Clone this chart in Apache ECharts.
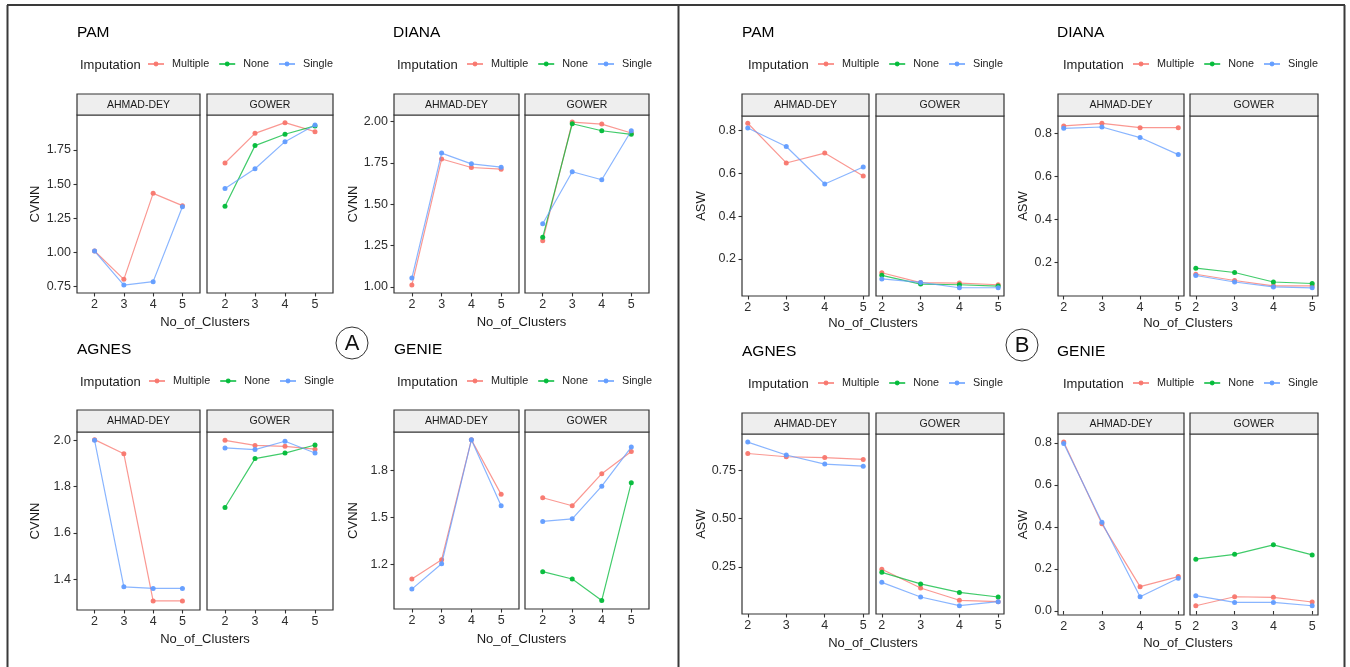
<!DOCTYPE html>
<html>
<head>
<meta charset="utf-8">
<script src="https://cdn.jsdelivr.net/npm/echarts@6.0.0/dist/echarts.min.js"></script>
<style>
html,body{margin:0;padding:0;background:#fff;}
#chart{width:1350px;height:667px;}
</style>
</head>
<body>
<div id="chart"></div>
<script>
// ---------------- DATA ----------------
const clusters = [2, 3, 4, 5];
const imputations = ['Multiple', 'None', 'Single'];
const facetNames = ['AHMAD-DEY', 'GOWER'];

// (A) CVNN
const cvnnPamAhmadMultiple   = [1.011, 0.804, 1.433, 1.343];
const cvnnPamAhmadSingle     = [1.011, 0.762, 0.787, 1.335];
const cvnnPamGowerMultiple   = [1.655, 1.872, 1.950, 1.884];
const cvnnPamGowerNone       = [1.338, 1.782, 1.865, 1.926];
const cvnnPamGowerSingle     = [1.469, 1.613, 1.811, 1.933];

const cvnnDianaAhmadMultiple = [1.012, 1.773, 1.722, 1.712];
const cvnnDianaAhmadSingle   = [1.054, 1.809, 1.744, 1.724];
const cvnnDianaGowerMultiple = [1.280, 1.996, 1.984, 1.930];
const cvnnDianaGowerNone     = [1.300, 1.986, 1.944, 1.922];
const cvnnDianaGowerSingle   = [1.382, 1.696, 1.648, 1.944];

const cvnnAgnesAhmadMultiple = [2.003, 1.942, 1.306, 1.306];
const cvnnAgnesAhmadSingle   = [2.000, 1.367, 1.360, 1.360];
const cvnnAgnesGowerMultiple = [2.000, 1.978, 1.974, 1.962];
const cvnnAgnesGowerNone     = [1.710, 1.921, 1.945, 1.980];
const cvnnAgnesGowerSingle   = [1.967, 1.960, 1.996, 1.945];

const cvnnGenieAhmadMultiple = [1.104, 1.228, 1.999, 1.648];
const cvnnGenieAhmadSingle   = [1.039, 1.202, 1.999, 1.575];
const cvnnGenieGowerMultiple = [1.626, 1.575, 1.781, 1.924];
const cvnnGenieGowerNone     = [1.151, 1.104, 0.966, 1.723];
const cvnnGenieGowerSingle   = [1.474, 1.491, 1.701, 1.952];

// (B) ASW
const aswPamAhmadMultiple    = [0.833, 0.648, 0.694, 0.587];
const aswPamAhmadSingle      = [0.811, 0.725, 0.550, 0.629];
const aswPamGowerMultiple    = [0.136, 0.090, 0.088, 0.080];
const aswPamGowerNone        = [0.124, 0.083, 0.080, 0.074];
const aswPamGowerSingle      = [0.107, 0.091, 0.066, 0.066];

const aswDianaAhmadMultiple  = [0.834, 0.846, 0.826, 0.826];
const aswDianaAhmadSingle    = [0.823, 0.829, 0.780, 0.701];
const aswDianaGowerMultiple  = [0.146, 0.117, 0.092, 0.092];
const aswDianaGowerNone      = [0.174, 0.154, 0.110, 0.103];
const aswDianaGowerSingle    = [0.140, 0.110, 0.087, 0.083];

const aswAgnesAhmadMultiple  = [0.838, 0.821, 0.817, 0.807];
const aswAgnesAhmadSingle    = [0.897, 0.830, 0.783, 0.772];
const aswAgnesGowerMultiple  = [0.238, 0.141, 0.077, 0.070];
const aswAgnesGowerNone      = [0.222, 0.162, 0.118, 0.094];
const aswAgnesGowerSingle    = [0.170, 0.094, 0.049, 0.070];

const aswGenieAhmadMultiple  = [0.805, 0.415, 0.116, 0.164];
const aswGenieAhmadSingle    = [0.798, 0.423, 0.068, 0.156];
const aswGenieGowerMultiple  = [0.025, 0.068, 0.065, 0.043];
const aswGenieGowerNone      = [0.247, 0.270, 0.315, 0.267];
const aswGenieGowerSingle    = [0.073, 0.041, 0.041, 0.025];

// tick labels
const xTicks          = [2, 3, 4, 5];
const cvnnPamTicks    = [0.75, 1.00, 1.25, 1.50, 1.75];
const cvnnDianaTicks  = [1.00, 1.25, 1.50, 1.75, 2.00];
const cvnnAgnesTicks  = [1.4, 1.6, 1.8, 2.0];
const cvnnGenieTicks  = [1.2, 1.5, 1.8];
const aswPamTicks     = [0.2, 0.4, 0.6, 0.8];
const aswDianaTicks   = [0.2, 0.4, 0.6, 0.8];
const aswAgnesTicks   = [0.25, 0.50, 0.75];
const aswGenieTicks   = [0.0, 0.2, 0.4, 0.6, 0.8];

// ---------------- LAYOUT / STYLE ----------------
const FONT = '"Liberation Sans", Arial, sans-serif';
const colors = { Multiple: '#F8766D', None: '#00BA38', Single: '#619CFF' };

const panels = [
  { title: 'PAM', metric: 'CVNN', ticks: cvnnPamTicks, dec: 2, yr: [0.704, 2.006], xr: [1.4, 5.6],
    f1: [77, 200], f2: [207, 333], top: 115, bottom: 293, stripTop: 94,
    tx: 77, ty: 33, impX: 80, keyX: 147, legY: 65, yTitleX: 35, xTitleY: 322,
    ahmad: { Multiple: cvnnPamAhmadMultiple, Single: cvnnPamAhmadSingle },
    gower: { Multiple: cvnnPamGowerMultiple, None: cvnnPamGowerNone, Single: cvnnPamGowerSingle } },
  { title: 'DIANA', metric: 'CVNN', ticks: cvnnDianaTicks, dec: 2, yr: [0.964, 2.039], xr: [1.4, 5.6],
    f1: [394, 519], f2: [525, 649], top: 115, bottom: 293, stripTop: 94,
    tx: 393, ty: 33, impX: 397, keyX: 466, legY: 65, yTitleX: 353, xTitleY: 322,
    ahmad: { Multiple: cvnnDianaAhmadMultiple, Single: cvnnDianaAhmadSingle },
    gower: { Multiple: cvnnDianaGowerMultiple, None: cvnnDianaGowerNone, Single: cvnnDianaGowerSingle } },
  { title: 'AGNES', metric: 'CVNN', ticks: cvnnAgnesTicks, dec: 1, yr: [1.267, 2.036], xr: [1.4, 5.6],
    f1: [77, 200], f2: [207, 333], top: 432, bottom: 610, stripTop: 410,
    tx: 77, ty: 350, impX: 80, keyX: 148, legY: 382, yTitleX: 35, xTitleY: 639,
    ahmad: { Multiple: cvnnAgnesAhmadMultiple, Single: cvnnAgnesAhmadSingle },
    gower: { Multiple: cvnnAgnesGowerMultiple, None: cvnnAgnesGowerNone, Single: cvnnAgnesGowerSingle } },
  { title: 'GENIE', metric: 'CVNN', ticks: cvnnGenieTicks, dec: 1, yr: [0.911, 2.049], xr: [1.4, 5.6],
    f1: [394, 519], f2: [525, 649], top: 432, bottom: 609, stripTop: 410,
    tx: 394, ty: 350, impX: 397, keyX: 466, legY: 382, yTitleX: 353, xTitleY: 639,
    ahmad: { Multiple: cvnnGenieAhmadMultiple, Single: cvnnGenieAhmadSingle },
    gower: { Multiple: cvnnGenieGowerMultiple, None: cvnnGenieGowerNone, Single: cvnnGenieGowerSingle } },
  { title: 'PAM', metric: 'ASW', ticks: aswPamTicks, dec: 1, yr: [0.0275, 0.867], xr: [1.85, 5.15],
    f1: [742, 869], f2: [876, 1004], top: 116, bottom: 296, stripTop: 94,
    tx: 742, ty: 33, impX: 748, keyX: 817, legY: 65, yTitleX: 701, xTitleY: 323,
    ahmad: { Multiple: aswPamAhmadMultiple, Single: aswPamAhmadSingle },
    gower: { Multiple: aswPamGowerMultiple, None: aswPamGowerNone, Single: aswPamGowerSingle } },
  { title: 'DIANA', metric: 'ASW', ticks: aswDianaTicks, dec: 1, yr: [0.045, 0.880], xr: [1.85, 5.15],
    f1: [1058, 1184], f2: [1190, 1318], top: 116, bottom: 296, stripTop: 94,
    tx: 1057, ty: 33, impX: 1063, keyX: 1132, legY: 65, yTitleX: 1023, xTitleY: 323,
    ahmad: { Multiple: aswDianaAhmadMultiple, Single: aswDianaAhmadSingle },
    gower: { Multiple: aswDianaGowerMultiple, None: aswDianaGowerNone, Single: aswDianaGowerSingle } },
  { title: 'AGNES', metric: 'ASW', ticks: aswAgnesTicks, dec: 2, yr: [0.006, 0.939], xr: [1.85, 5.15],
    f1: [742, 869], f2: [876, 1004], top: 434, bottom: 614, stripTop: 413,
    tx: 742, ty: 352, impX: 748, keyX: 817, legY: 384, yTitleX: 701, xTitleY: 643,
    ahmad: { Multiple: aswAgnesAhmadMultiple, Single: aswAgnesAhmadSingle },
    gower: { Multiple: aswAgnesGowerMultiple, None: aswAgnesGowerNone, Single: aswAgnesGowerSingle } },
  { title: 'GENIE', metric: 'ASW', ticks: aswGenieTicks, dec: 1, yr: [-0.019, 0.843], xr: [1.85, 5.15],
    f1: [1058, 1184], f2: [1190, 1318], top: 434, bottom: 615, stripTop: 413,
    tx: 1057, ty: 352, impX: 1063, keyX: 1132, legY: 384, yTitleX: 1023, xTitleY: 643,
    ahmad: { Multiple: aswGenieAhmadMultiple, Single: aswGenieAhmadSingle },
    gower: { Multiple: aswGenieGowerMultiple, None: aswGenieGowerNone, Single: aswGenieGowerSingle } }
];

const grids = [], xAxes = [], yAxes = [], series = [], legends = [], graphics = [];

const textCol = '#1a1a1a';
const axisCol = '#2e2e2e';

panels.forEach((p) => {
  [p.f1, p.f2].forEach((f, fi) => {
    const gi = grids.length;
    grids.push({
      left: f[0], top: p.top, width: f[1] - f[0], height: p.bottom - p.top,
      show: true, borderColor: '#333', borderWidth: 1.2, backgroundColor: '#fff',
      containLabel: false, outerBoundsMode: 'none'
    });
    xAxes.push({
      type: 'value', gridIndex: gi, min: p.xr[0], max: p.xr[1],
      splitLine: { show: false }, axisLine: { show: false },
      axisTick: { show: true, length: 3.5, lineStyle: { color: '#333', width: 1.1 }, customValues: xTicks },
      axisLabel: { show: true, customValues: xTicks, fontSize: 12.5, color: axisCol, fontFamily: FONT, margin: 5 }
    });
    yAxes.push({
      type: 'value', gridIndex: gi, min: p.yr[0], max: p.yr[1], show: fi === 0,
      splitLine: { show: false }, axisLine: { show: false },
      axisTick: { show: true, length: 3.5, lineStyle: { color: '#333', width: 1.1 }, customValues: p.ticks },
      axisLabel: { show: true, customValues: p.ticks, fontSize: 12.5, color: axisCol, fontFamily: FONT, margin: 6,
                   formatter: (v) => Number(v).toFixed(p.dec) }
    });
    const group = fi === 0 ? p.ahmad : p.gower;
    imputations.forEach((imp, k) => {
      const vals = group[imp];
      if (!vals) return;
      series.push({
        type: 'line', name: imp, xAxisIndex: gi, yAxisIndex: gi,
        data: clusters.map((c, j) => [c, vals[j]]),
        symbol: 'circle', symbolSize: 5, showSymbol: true,
        itemStyle: { color: colors[imp], opacity: 0.95 },
        lineStyle: { color: colors[imp], width: 1.2, opacity: 0.75 },
        z: 2 + k, silent: true, animation: false
      });
    });
    // strip
    graphics.push({
      type: 'rect', shape: { x: f[0], y: p.stripTop, width: f[1] - f[0], height: p.top - p.stripTop },
      style: { fill: '#EEEEEE', stroke: '#333', lineWidth: 1.2 }, silent: true
    });
    graphics.push({
      type: 'text', x: (f[0] + f[1]) / 2, y: (p.stripTop + p.top) / 2 + 0.5,
      style: { text: facetNames[fi], fill: textCol, font: '10.5px ' + FONT, textAlign: 'center', textVerticalAlign: 'middle' },
      silent: true
    });
  });
  // title
  graphics.push({ type: 'text', x: p.tx, y: p.ty,
    style: { text: p.title, fill: '#000', font: '15.5px ' + FONT, textAlign: 'left', textVerticalAlign: 'middle' }, silent: true });
  // legend title
  graphics.push({ type: 'text', x: p.impX, y: p.legY,
    style: { text: 'Imputation', fill: textCol, font: '13px ' + FONT, textAlign: 'left', textVerticalAlign: 'middle' }, silent: true });
  legends.push({
    data: imputations, left: p.keyX, top: p.legY - 6.5, orient: 'horizontal',
    itemWidth: 16, itemHeight: 6, itemGap: 9, padding: 0, selectedMode: false,
    textStyle: { fontSize: 10.8, color: '#222', fontFamily: FONT, padding: [0, 0, 0, 3] }
  });
  // y title
  graphics.push({ type: 'text', x: p.yTitleX, y: (p.top + p.bottom) / 2, rotation: Math.PI / 2,
    style: { text: p.metric, fill: textCol, font: '13px ' + FONT, textAlign: 'center', textVerticalAlign: 'middle' }, silent: true });
  // x title
  graphics.push({ type: 'text', x: (p.f1[0] + p.f2[1]) / 2, y: p.xTitleY,
    style: { text: 'No_of_Clusters', fill: textCol, font: '13px ' + FONT, textAlign: 'center', textVerticalAlign: 'middle' }, silent: true });
});

// frame lines
const frameCol = '#3a3a3a';
[
  [7, 5, 1345, 5], [7.5, 5, 7.5, 667], [678.5, 5, 678.5, 667], [1344.5, 5, 1344.5, 667]
].forEach(l => graphics.push({ type: 'line', shape: { x1: l[0], y1: l[1], x2: l[2], y2: l[3] },
  style: { stroke: frameCol, lineWidth: 2 }, silent: true }));

// panel labels A / B
[['A', 352, 343], ['B', 1022, 345]].forEach(b => {
  graphics.push({ type: 'circle', shape: { cx: b[1], cy: b[2], r: 16 },
    style: { fill: '#fff', stroke: '#333', lineWidth: 1 }, silent: true });
  graphics.push({ type: 'text', x: b[1], y: b[2] + 1,
    style: { text: b[0], fill: '#111', font: '22px ' + FONT, textAlign: 'center', textVerticalAlign: 'middle' }, silent: true });
});

const chart = echarts.init(document.getElementById('chart'), null, { renderer: 'canvas' });
chart.setOption({
  backgroundColor: '#ffffff',
  animation: false,
  textStyle: { fontFamily: FONT },
  grid: grids,
  xAxis: xAxes,
  yAxis: yAxes,
  legend: legends,
  series: series,
  graphic: graphics
});
</script>
</body>
</html>
